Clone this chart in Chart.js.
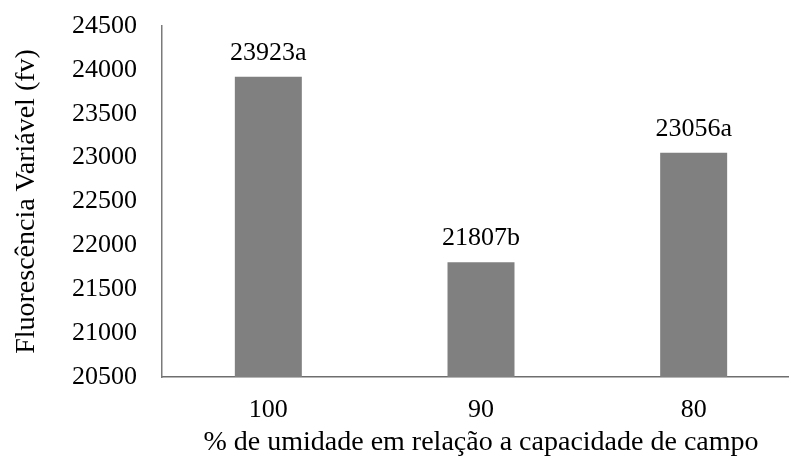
<!DOCTYPE html>
<html>
<head>
<meta charset="utf-8">
<script src="https://cdn.jsdelivr.net/npm/chart.js@4/dist/chart.umd.min.js"></script>
<style>
  html, body { margin: 0; padding: 0; background: #fff; }
  #wrap { width: 789px; height: 462px; }
</style>
</head>
<body>
<div id="wrap"><canvas id="grafico"></canvas></div>
<script>
// Dados
const categorias = ["100", "90", "80"];
const valores = [23923, 21807, 23056];
const letras = ["a", "b", "a"];

const fonte = "'Liberation Serif', 'Times New Roman', serif";

// Rótulos acima das barras
const rotulos = {
  id: "rotulos",
  afterDatasetsDraw(chart) {
    const ctx = chart.ctx;
    const meta = chart.getDatasetMeta(0);
    ctx.save();
    ctx.font = "26px " + fonte;
    ctx.fillStyle = "#000";
    ctx.textAlign = "center";
    ctx.textBaseline = "alphabetic";
    meta.data.forEach((barra, i) => {
      ctx.fillText(valores[i] + letras[i], barra.x, barra.y - 17);
    });
    ctx.restore();
  }
};

// O eixo x do original continua além da borda direita
const eixoLargo = {
  id: "eixoLargo",
  afterLayout(chart) {
    const x = chart.scales.x;
    x.right = 800;
    x.width = x.right - x.left;
    x.configure();
  }
};

const ctx = document.getElementById("grafico").getContext("2d");
new Chart(ctx, {
  type: "bar",
  data: {
    labels: categorias,
    datasets: [{
      data: valores,
      backgroundColor: "#808080",
      borderWidth: 0,
      barPercentage: 0.315,
      categoryPercentage: 1
    }]
  },
  options: {
    responsive: true,
    maintainAspectRatio: false,
    animation: false,
    layout: { padding: { top: 26, right: 0, left: 10, bottom: 3 } },
    plugins: {
      legend: { display: false },
      tooltip: { enabled: false }
    },
    scales: {
      x: {
        afterFit: s => { s.height = 82; },
        grid: { display: false, drawTicks: false },
        border: { display: true, color: "#6e6e6e", width: 1.5 },
        ticks: { color: "#000", font: { family: fonte, size: 26 }, padding: 18 },
        title: {
          display: true,
          text: "% de umidade em relação a capacidade de campo",
          color: "#000",
          font: { family: fonte, size: 28 },
          padding: { top: 0, bottom: 0 }
        }
      },
      y: {
        min: 20500,
        max: 24500,
        afterFit: s => { s.width = 152; },
        grid: { display: false, drawTicks: true, tickLength: 25 },
        border: { display: true, color: "#7a7a7a", width: 1.5 },
        ticks: {
          stepSize: 500,
          color: "#000",
          font: { family: fonte, size: 26 },
          padding: 0,
          callback: v => String(v)
        },
        title: {
          display: true,
          text: "Fluorescência Variável (fv)",
          color: "#000",
          font: { family: fonte, size: 28 },
          padding: { top: 0, bottom: 0 }
        }
      }
    }
  },
  plugins: [rotulos, eixoLargo]
});
</script>
</body>
</html>
